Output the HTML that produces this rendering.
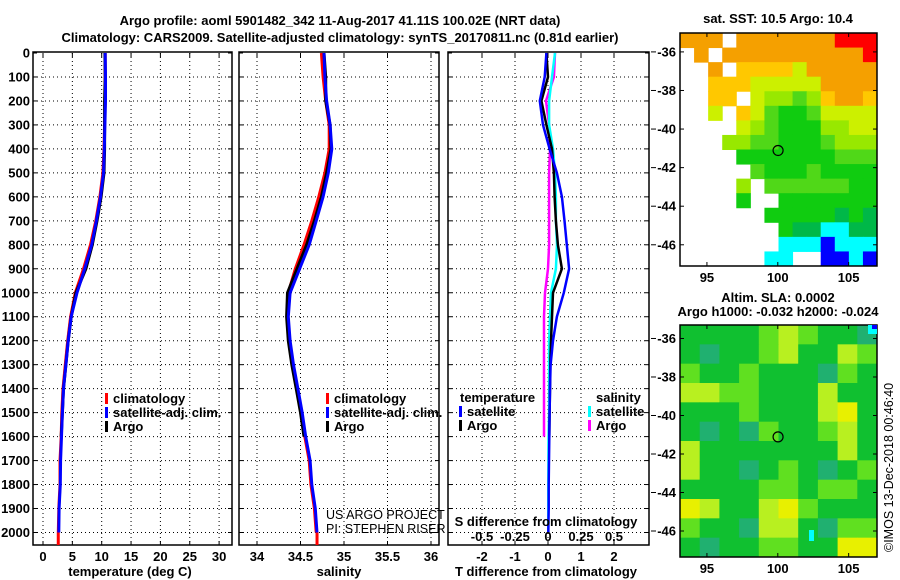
<!DOCTYPE html>
<html><head><meta charset="utf-8">
<style>
html,body{margin:0;padding:0;background:#fff;}
svg{display:block;font-family:"Liberation Sans",Arial,sans-serif;}
.b{font-weight:bold;font-size:13px;}
</style></head>
<body>
<svg id="chart" width="900" height="580" viewBox="0 0 900 580" xmlns="http://www.w3.org/2000/svg">
<text class="b" x="340" y="25" text-anchor="middle" font-size="14">Argo profile: aoml 5901482_342 11-Aug-2017 41.11S 100.02E (NRT data)</text>
<text class="b" x="340" y="42" text-anchor="middle" font-size="14">Climatology: CARS2009. Satellite-adjusted climatology: synTS_20170811.nc (0.81d earlier)</text>
<g id="g"></g>
</svg>
<script>
// ---------- data ----------
const depths = [0,100,200,300,400,500,600,700,800,900,1000,1100,1200,1300,1400,1500,1600,1700,1800,1900,2000];
const tempClim = [10.6,10.6,10.6,10.5,10.4,10.2,9.7,9.0,8.1,6.9,5.5,4.7,4.2,3.8,3.4,3.2,3.1,2.9,2.9,2.7,2.6];
const tempSat  = [10.6,10.65,10.65,10.55,10.45,10.3,9.8,9.1,8.3,7.1,5.8,4.8,4.3,3.9,3.5,3.3,3.15,3.0,2.95,2.75,2.7];
const tempArgo = [10.55,10.6,10.5,10.5,10.5,10.4,9.9,9.2,8.4,7.3,5.6,4.8,4.3,3.9,3.5,3.3,3.1];
const salClim = [34.74,34.76,34.79,34.83,34.83,34.78,34.71,34.63,34.54,34.44,34.36,34.35,34.37,34.41,34.46,34.51,34.55,34.60,34.62,34.66,34.68];
const salSat  = [34.77,34.78,34.80,34.84,34.86,34.82,34.76,34.68,34.60,34.49,34.38,34.36,34.38,34.42,34.47,34.52,34.56,34.61,34.63,34.67,34.69];
const salArgo = [34.77,34.79,34.79,34.84,34.85,34.80,34.74,34.66,34.57,34.46,34.35,34.34,34.36,34.40,34.45,34.50,34.54];
const tDiffSat  = [-0.05,-0.1,-0.25,-0.15,0.05,0.27,0.42,0.5,0.57,0.64,0.48,0.27,0.15,0.08,0.06,0.05,0.04,0.03,0.02,0.02,0.01];
const tDiffArgo = [-0.05,0,-0.2,-0.05,0.12,0.18,0.2,0.24,0.3,0.42,0.15,0.12,0.09,0.07,0.06,0.05,0.04];
const sDiffSat  = [0.053,0.03,0.008,0.008,0.038,0.053,0.06,0.06,0.068,0.06,0.023,0.015,0.008,0.008,0.008,0.008,0.004,0.003,0.002,0.002,0.002];
const sDiffArgo = [0.053,0.045,-0.015,0.008,0.015,0.008,0.008,0.008,0.008,0,-0.023,-0.03,-0.03,-0.03,-0.03,-0.03,-0.03];
const depthTicks = [0,100,200,300,400,500,600,700,800,900,1000,1100,1200,1300,1400,1500,1600,1700,1800,1900,2000];
const tempTicks = [0,5,10,15,20,25,30];
const salTicks = [34,34.5,35,35.5,36];
const salTickLabels = ["34","34.5","35","35.5","36"];
const tdTicks = [-2,-1,0,1,2];
const sdTicks = [-0.5,-0.25,0,0.25,0.5];
const sdTickLabels = ["-0.5","-0.25","0","0.25","0.5"];
// SST map (colour class per cell, '.' = no data, 'a' = coldest)
const sstRows = [
"777.7777777888",
".7.77777777778",
"..7.6666577777",
"..666555557777",
"..66.544346776",
"..5.6532235555",
"....5432224455",
"...44332223444",
"....2222222333",
".....322232222",
"....4.33333322",
"....2..2222222",
"......22222121",
".......2110011",
".......000a000",
"......00..aa0a"];
const slaRows = [
[1,1,1,1,2,3,2,1,1,0],[1,0,1,1,2,3,1,1,3,2],[2,1,1,2,1,1,1,0,2,1],[3,3,2,2,1,1,1,3,1,1],
[1,1,1,2,1,1,1,3,4,1],[1,0,1,0,2,1,1,2,3,1],[3,1,1,1,1,1,1,1,3,1],[3,1,1,0,1,2,1,0,1,2],
[1,1,1,1,2,2,1,2,2,1],[4,3,1,1,3,4,2,1,1,1],[2,1,1,0,3,3,1,0,2,2],[1,0,1,1,2,2,1,1,4,4]];
const lonTicks = [95,100,105];
const latTicks = [-36,-38,-40,-42,-44,-46];
const argoLon = 100.02, argoLat = -41.11;

// ---------- helpers ----------
const NS="http://www.w3.org/2000/svg", G=document.getElementById('g');
function el(tag,attrs,parent){const e=document.createElementNS(NS,tag);for(const k in attrs)e.setAttribute(k,attrs[k]);(parent||G).appendChild(e);return e;}
const yD = d => 53 + d*0.23975;
const PT = 53, PB = 545;
function panel(x0,x1,name){
  const g=el('g',{});
  
  
  return g;
}
function grid(g,x0,x1,xs){
  depthTicks.forEach(d=>{ if(d>0) el('line',{x1:x0,x2:x1,y1:yD(d),y2:yD(d),stroke:'#000','stroke-width':1,'stroke-dasharray':'1,3'},g);
    el('line',{x1:x0,x2:x0+4,y1:yD(d),y2:yD(d),stroke:'#000'},g); el('line',{x1:x1-4,x2:x1,y1:yD(d),y2:yD(d),stroke:'#000'},g);});
  xs.forEach(x=>{el('line',{x1:x,x2:x,y1:PT,y2:PB,stroke:'#000','stroke-dasharray':'1,3'},g);
    el('line',{x1:x,x2:x,y1:PB-4,y2:PB,stroke:'#000'},g); el('line',{x1:x,x2:x,y1:PT,y2:PT+4,stroke:'#000'},g);});
  el('rect',{x:x0,y:PT-1,width:x1-x0,height:PB-PT+1,fill:'none',stroke:'#000','stroke-width':1.5},g);
}
function line(g,vals,xf,color,name,w){
  const pts=vals.map((v,i)=>xf(v).toFixed(1)+','+yD(depths[i]).toFixed(1)).join(' ');
  const p=el('polyline',{points:pts,fill:'none',stroke:color,'stroke-width':w||3},g);
  
  
  return p;
}
function txt(g,x,y,s,attrs,name){const t=el('text',Object.assign({x:x,y:y,class:'b'},attrs||{}),g);t.textContent=s;
  
  
  return t;}
function legBar(g,x,y,c){el('rect',{x:x,y:y-10,width:3,height:11,fill:c},g);}

// y-axis labels
depthTicks.forEach(d=>{ txt(G,30,yD(d)+4.5,String(d),{'text-anchor':'end'},'depth-tick-label'); });

// ---------- panel 1: temperature ----------
const xT = t => 43 + t*5.87;
const p1=panel(33,232,'temperature-panel');
grid(p1,33,232,tempTicks.map(xT));
el('line',{x1:xT(2.6),x2:xT(2.6),y1:yD(2000),y2:PB,stroke:'#ff0000','stroke-width':3},p1);
line(p1,tempClim,xT,'#ff0000','temperature-climatology-line');
line(p1,tempArgo,xT,'#000','temperature-argo-line');
line(p1,tempSat,xT,'#0000ff','temperature-satellite-line');
tempTicks.forEach(t=>txt(p1,xT(t),561,String(t),{'text-anchor':'middle'},'temperature-tick-label'));
txt(p1,130,576,'temperature (deg C)',{'text-anchor':'middle'},'temperature-axis-title');
legBar(p1,105,403,'#ff0000');txt(p1,113,403,'climatology',{},'legend-climatology');
legBar(p1,105,417,'#0000ff');txt(p1,113,417,'satellite-adj. clim.',{},'legend-satellite-adj');
legBar(p1,105,431,'#000');txt(p1,113,431,'Argo',{},'legend-argo');

// ---------- panel 2: salinity ----------
const xS = s => 257 + (s-34)*87;
const p2=panel(239,439,'salinity-panel');
grid(p2,239,439,salTicks.map(xS));
el('line',{x1:xS(34.69),x2:xS(34.69),y1:yD(2000),y2:PB,stroke:'#ff0000','stroke-width':3},p2);
line(p2,salClim,xS,'#ff0000','salinity-climatology-line');
line(p2,salArgo,xS,'#000','salinity-argo-line');
line(p2,salSat,xS,'#0000ff','salinity-satellite-line');
salTicks.forEach((s,i)=>txt(p2,xS(s),561,salTickLabels[i],{'text-anchor':'middle'},'salinity-tick-label'));
txt(p2,339,576,'salinity',{'text-anchor':'middle'},'salinity-axis-title');
legBar(p2,326,403,'#ff0000');txt(p2,334,403,'climatology',{},'legend-climatology');
legBar(p2,326,417,'#0000ff');txt(p2,334,417,'satellite-adj. clim.',{},'legend-satellite-adj');
legBar(p2,326,431,'#000');txt(p2,334,431,'Argo',{},'legend-argo');
txt(p2,326,519,'US ARGO PROJECT',{class:'',style:'font-size:12.5px'},'project-credit');
txt(p2,326,533,'PI: STEPHEN RISER',{class:'',style:'font-size:12.5px'},'pi-credit');

// ---------- panel 3: differences ----------
const xTD = t => 548 + t*33;
const xSD = s => 548 + s*132;
const p3=panel(448,649,'difference-panel');
grid(p3,448,649,tdTicks.map(xTD));
line(p3,sDiffArgo,xSD,'#ff00ff','salinity-diff-argo-line',2.5);
line(p3,sDiffSat,xSD,'#00ffff','salinity-diff-satellite-line',2.5);
line(p3,tDiffArgo,xTD,'#000','temperature-diff-argo-line',2.5);
line(p3,tDiffSat,xTD,'#0000ff','temperature-diff-satellite-line',2.5);
tdTicks.forEach(t=>txt(p3,xTD(t),561,String(t),{'text-anchor':'middle'},'t-diff-tick-label'));
sdTicks.forEach((s,i)=>txt(p3,xSD(s),541,sdTickLabels[i],{'text-anchor':'middle'},'s-diff-tick-label'));
txt(p3,546,526,'S difference from climatology',{'text-anchor':'middle'},'s-diff-axis-title');
txt(p3,546,576,'T difference from climatology',{'text-anchor':'middle'},'t-diff-axis-title');
txt(p3,460,402,'temperature',{},'legend-temperature-heading');
legBar(p3,459,416,'#0000ff');txt(p3,467,416,'satellite',{},'legend-t-satellite');
legBar(p3,459,430,'#000');txt(p3,467,430,'Argo',{},'legend-t-argo');
txt(p3,596,402,'salinity',{},'legend-salinity-heading');
legBar(p3,588,416,'#00ffff');txt(p3,596,416,'satellite',{},'legend-s-satellite');
legBar(p3,588,430,'#ff00ff');txt(p3,596,430,'Argo',{},'legend-s-argo');

// ---------- maps ----------
const sstColors={'a':'#0000ff','0':'#00ffff','1':'#00b848','2':'#10cc10','3':'#50d818','4':'#98e800','5':'#ccf000','6':'#ffc800','7':'#f5a000','8':'#ff0000'};
const slaColors=['#20b070','#10c030','#60e020','#b8f020','#e8f000'];
function map(x0,y0,x1,y1,latTop,latBot,rows,colorOf,name){
  const g=panel(x0,x1,name);
  const lonL=93.1, lonR=107.0;
  const mx=l=>x0+(l-lonL)*(x1-x0)/(lonR-lonL);
  const my=l=>y0+(latTop-l)*(y1-y0)/(latTop-latBot);
  const nr=rows.length, nc=rows[0].length;
  const cw=(x1-x0)/nc, ch=(y1-y0)/nr;
  for(let r=0;r<nr;r++)for(let c=0;c<nc;c++){const col=colorOf(rows[r][c]); if(!col)continue;
    const cell=el('rect',{x:(x0+c*cw).toFixed(2),y:(y0+r*ch).toFixed(2),width:(cw+0.5).toFixed(2),height:(ch+0.5).toFixed(2),fill:col},g);
    
    }
  el('rect',{x:x0,y:y0,width:x1-x0,height:y1-y0,fill:'none',stroke:'#000','stroke-width':1.5},g);
  latTicks.forEach(l=>{const y=my(l);el('line',{x1:x0,x2:x0+4,y1:y,y2:y,stroke:'#000'},g);el('line',{x1:x1-4,x2:x1,y1:y,y2:y,stroke:'#000'},g);
    el('line',{x1:651,x2:656,y1:y,y2:y,stroke:'#000'},g);
    txt(g,x0-4,y+4.5,String(l),{'text-anchor':'end'},'latitude-tick-label');});
  lonTicks.forEach(l=>{const x=mx(l);el('line',{x1:x,x2:x,y1:y1-4,y2:y1,stroke:'#000'},g);el('line',{x1:x,x2:x,y1:y0,y2:y0+4,stroke:'#000'},g);
    txt(g,x,y1+16,String(l),{'text-anchor':'middle'},'longitude-tick-label');});
  const c=el('circle',{cx:mx(argoLon),cy:my(argoLat),r:5,fill:'none',stroke:'#000','stroke-width':1.2},g);
  
  
  return {g,mx,my};
}
const m1=map(680,33,877,266,-35.02,-47.1,sstRows,v=>sstColors[v],'sst-map');
txt(G,778,23,'sat. SST: 10.5 Argo: 10.4',{'text-anchor':'middle'},'sst-map-title');
const m2=map(680,325,877,557,-35.3,-47.35,slaRows,v=>slaColors[v],'sla-map');
el('rect',{x:809,y:530,width:5,height:11,fill:'#00ffff'},m2.g);
el('rect',{x:868,y:325,width:9,height:9,fill:'#00ffff'},m2.g);
el('rect',{x:872,y:325,width:5,height:4,fill:'#0000ff'},m2.g);
txt(G,778,302,'Altim. SLA: 0.0002',{'text-anchor':'middle'},'sla-map-title');
txt(G,778,316,'Argo h1000: -0.032 h2000: -0.024',{'text-anchor':'middle'},'steric-height-label');
txt(G,0,0,'©IMOS 13-Dec-2018 00:46:40',{class:'',style:'font-size:12.5px',transform:'translate(893,552) rotate(-90)'},'imos-credit');
</script>
</body></html>
